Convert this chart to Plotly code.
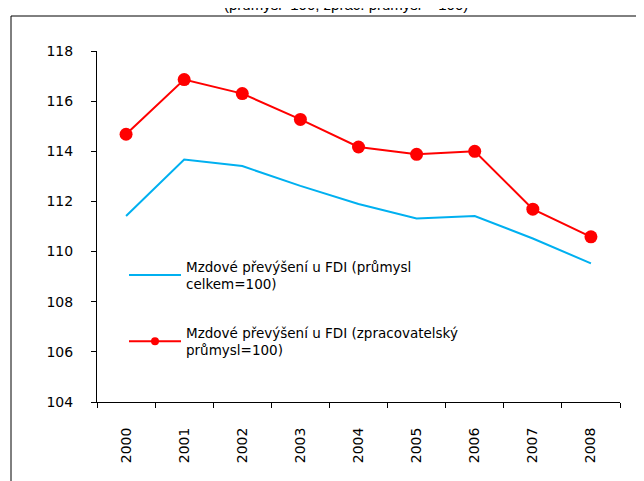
import plotly.graph_objects as go

years = ["2000", "2001", "2002", "2003", "2004", "2005", "2006", "2007", "2008"]
celkem = [111.42, 113.67, 113.41, 112.62, 111.9, 111.32, 111.42, 110.52, 109.53]
zprac = [114.68, 116.86, 116.3, 115.27, 114.17, 113.88, 114.0, 111.69, 110.59]
name_celkem = "Mzdové převýšení u FDI (průmysl<br>celkem=100)"
name_zprac = "Mzdové převýšení u FDI (zpracovatelský<br>průmysl=100)"
title_text = "(průmysl=100; zprac. průmysl = 100)"
y_ticks = [104, 106, 108, 110, 112, 114, 116, 118]

OFF = 8  # page body margin
W, H = 644 - OFF, 481 - OFF
L, R, T, B = 97 - OFF, 24, 51 - OFF, 79
pw, ph = W - L - R, H - T - B

def px_x(p):
    return (p - OFF - L) / pw

def px_y(p):
    return (H - B - (p - OFF)) / ph

FONT = "DejaVu Sans, Liberation Sans, Arial, sans-serif"
BLUE, RED = "#00B0F0", "#FF0000"

fig = go.Figure()
fig.add_trace(go.Scatter(x=years, y=celkem, mode="lines", name=name_celkem,
                         legendgroup="a",
                         line=dict(color=BLUE, width=2)))
fig.add_trace(go.Scatter(x=years, y=zprac, mode="lines+markers", name=name_zprac,
                         legendgroup="b", showlegend=False,
                         line=dict(color=RED, width=2),
                         marker=dict(color=RED, size=13)))
# legend entry for the red series (smaller marker, as in the reference legend)
fig.add_trace(go.Scatter(x=[None], y=[None], mode="lines+markers", name=name_zprac,
                         legendgroup="b",
                         line=dict(color=RED, width=2),
                         marker=dict(color=RED, size=8)))

fig.update_layout(
    width=W, height=H,
    margin=dict(l=L, r=R, t=T, b=B, pad=0),
    paper_bgcolor="white", plot_bgcolor="white",
    font=dict(family=FONT, size=12, color="#000000"),
    showlegend=True,
    legend=dict(x=px_x(124), y=px_y(251), xanchor="left", yanchor="top",
                bgcolor="rgba(0,0,0,0)", font=dict(size=13.5, family=FONT),
                tracegroupgap=28, itemwidth=52),
    xaxis=dict(type="category", range=[-0.5, 8.5], showgrid=False,
               showline=True, linecolor="#000000", linewidth=1,
               ticks="outside", ticklen=5, tickcolor="#000000",
               tickson="boundaries", tickangle=-90, tickfont=dict(size=14),
               ticklabelstandoff=19, zeroline=False),
    yaxis=dict(range=[104, 118], tickvals=y_ticks, showgrid=False,
               showline=True, linecolor="#000000", linewidth=1,
               ticks="outside", ticklen=5, tickcolor="#000000",
               ticklabelstandoff=15, tickfont=dict(size=14), zeroline=False),
    shapes=[dict(type="rect", xref="paper", yref="paper",
                 x0=px_x(11), x1=px_x(700), y0=px_y(16), y1=px_y(520),
                 line=dict(color="#000000", width=1), fillcolor="rgba(0,0,0,0)",
                 layer="below")],
    annotations=[dict(text=title_text, xref="paper", yref="paper",
                      x=px_x(346), y=px_y(15), xanchor="center", yanchor="bottom",
                      showarrow=False,
                      font=dict(size=15, family="Liberation Sans, Arial, sans-serif"))],
)

fig.write_html("out.html")
